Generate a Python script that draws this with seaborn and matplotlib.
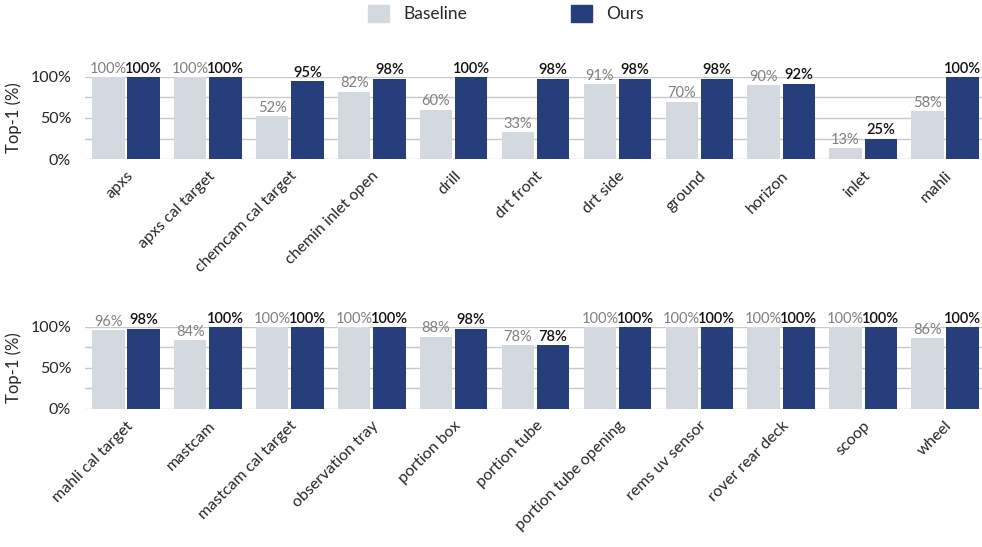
import numpy as np
import pandas as pd
import matplotlib.pyplot as plt
import seaborn as sns
from matplotlib.patches import Patch

# 上段のカテゴリ
cats_top = ['apxs', 'apxs cal target', 'chemcam cal target', 'chemin inlet open',
            'drill', 'drt front', 'drt side', 'ground', 'horizon', 'inlet', 'mahli']
base_top = [100, 100, 52, 82, 60, 33, 91, 70, 90, 13, 58]
ours_top = [100, 100, 95, 98, 100, 98, 98, 98, 92, 25, 100]

# 下段のカテゴリ
cats_bot = ['mahli cal target', 'mastcam', 'mastcam cal target', 'observation tray',
            'portion box', 'portion tube', 'portion tube opening', 'rems uv sensor',
            'rover rear deck', 'scoop', 'wheel']
base_bot = [96, 84, 100, 100, 88, 78, 100, 100, 100, 100, 86]
ours_bot = [98, 100, 100, 100, 98, 78, 100, 100, 100, 100, 100]

methods = ['Baseline', 'Ours']
colors = {'Baseline': '#d4d8df', 'Ours': '#263f7c'}

sns.set_style('white')
plt.rcParams['font.family'] = ['Lato', 'DejaVu Sans']

fig = plt.figure(figsize=(9.82, 5.47), dpi=100)
ax1 = fig.add_axes([0.0866, 0.7093, 0.9175, 0.150])
ax2 = fig.add_axes([0.0866, 0.2523, 0.9175, 0.150])


def draw(ax, cats, base, ours):
    df = pd.DataFrame({'cat': cats * 2,
                       'method': ['Baseline'] * len(cats) + ['Ours'] * len(cats),
                       'acc': base + ours})
    sns.barplot(data=df, x='cat', y='acc', hue='method', hue_order=methods,
                palette=colors, width=0.86, gap=0.08, ax=ax, legend=False,
                edgecolor='none', saturation=1)
    ax.set_ylim(0, 100)
    ax.set_xlim(-0.5, len(cats) - 0.5)
    ax.set_yticks([0, 50, 100])
    ax.set_yticks([25, 75], minor=True)
    ax.set_yticklabels(['0%', '50%', '100%'], fontsize=11.5)
    ax.grid(axis='y', which='both', color='#c8c8c8', linewidth=1)
    ax.set_axisbelow(True)
    for s in ax.spines.values():
        s.set_visible(False)
    ax.tick_params(axis='y', length=0, pad=10)
    ax.tick_params(axis='x', length=0, pad=7)
    ax.set_xlabel('')
    ax.set_ylabel('Top-1 (%)', fontsize=12, labelpad=6)
    ax.set_xticks(range(len(cats)))
    ax.set_xticklabels(cats, rotation=45, ha='right', rotation_mode='anchor', fontsize=11.5)
    # ラベル
    ax.bar_label(ax.containers[0], labels=[f'{v}%' for v in base], padding=1,
                 fontsize=10.5, color='#808080', clip_on=False)
    ax.bar_label(ax.containers[1], labels=[f'{v}%' for v in ours], padding=1,
                 fontsize=10.5, color='#111111', fontweight='semibold', clip_on=False)


draw(ax1, cats_top, base_top, ours_top)
draw(ax2, cats_bot, base_bot, ours_bot)

handles = [Patch(color=colors[m], label=m) for m in methods]
fig.legend(handles=handles, loc='upper center', bbox_to_anchor=(0.515, 1.02), ncol=2,
           frameon=False, fontsize=12.5, handlelength=1.2, handleheight=1.2,
           columnspacing=6, handletextpad=0.8)

fig.savefig('out.png', dpi=100)
